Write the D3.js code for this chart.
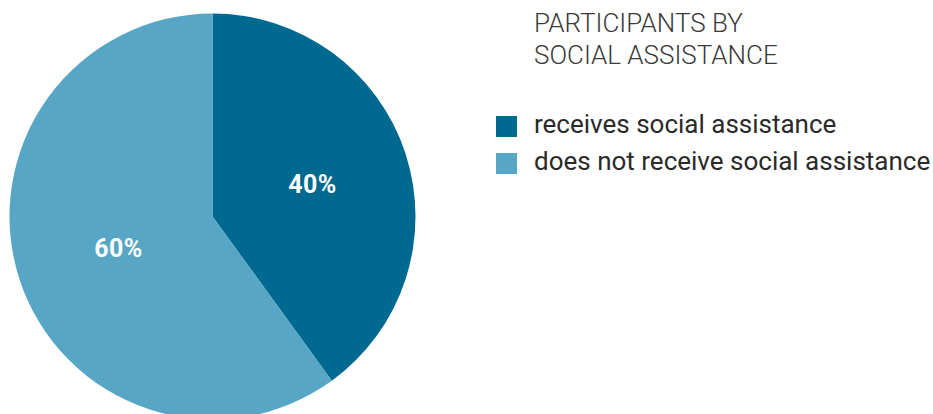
<!DOCTYPE html>
<html>
<head>
<meta charset="utf-8">
<script src="https://cdn.jsdelivr.net/npm/d3@7"></script>
<style>
  html, body { margin: 0; padding: 0; background: #ffffff; }
  svg { display: block; }
</style>
</head>
<body>
<svg id="chart" width="933" height="414"></svg>
<script>
// Participants split by whether they receive social assistance
const categories = ["receives social assistance", "does not receive social assistance"];
const values = [40, 60];
const valueLabels = ["40%", "60%"];
const titleLines = ["PARTICIPANTS BY", "SOCIAL ASSISTANCE"];
const colors = ["#006990", "#58a6c5"];

const svg = d3.select("#chart");
const cx = 212.5, cy = 216.5, radius = 203;

const color = d3.scaleOrdinal().domain(categories).range(colors);

const pie = d3.pie().sort(null).value(d => d.value);
const arcs = pie(categories.map((c, i) => ({ name: c, value: values[i], label: valueLabels[i] })));

const arc = d3.arc().innerRadius(0).outerRadius(radius);
const labelArc = d3.arc().innerRadius(102).outerRadius(102);

const g = svg.append("g").attr("transform", `translate(${cx},${cy})`);

g.selectAll("path.slice")
  .data(arcs)
  .join("path")
  .attr("class", "slice")
  .attr("d", arc)
  .attr("fill", d => color(d.data.name));

g.selectAll("text.value")
  .data(arcs)
  .join("text")
  .attr("class", "value")
  .attr("transform", d => {
    const [x, y] = labelArc.centroid(d);
    return `translate(${x + 3},${y})`;
  })
  .attr("text-anchor", "middle")
  .attr("dominant-baseline", "central")
  .attr("font-family", "Roboto, 'DejaVu Sans', sans-serif")
  .attr("font-weight", 700)
  .attr("font-size", 25)
  .attr("letter-spacing", 0.5)
  .attr("fill", "#ffffff")
  .text(d => d.data.label);

// Title
const legendX = 534;
svg.append("g")
  .selectAll("text")
  .data(titleLines)
  .join("text")
  .attr("x", legendX)
  .attr("y", (d, i) => 32 + i * 32)
  .attr("font-family", "Roboto, 'DejaVu Sans', sans-serif")
  .attr("font-weight", 300)
  .attr("font-size", 26)
  .attr("fill", "#3a3a3a")
  .text(d => d);

// Legend
const legend = svg.append("g")
  .selectAll("g")
  .data(categories)
  .join("g")
  .attr("transform", (d, i) => `translate(496,${116 + i * 37})`);

legend.append("rect")
  .attr("width", 21)
  .attr("height", 21)
  .attr("fill", d => color(d));

legend.append("text")
  .attr("x", 38)
  .attr("y", 17)
  .attr("font-family", "Roboto, 'DejaVu Sans', sans-serif")
  .attr("font-weight", 400)
  .attr("font-size", 26)
  .attr("fill", "#2a2a2a")
  .text(d => d);
</script>
</body>
</html>
